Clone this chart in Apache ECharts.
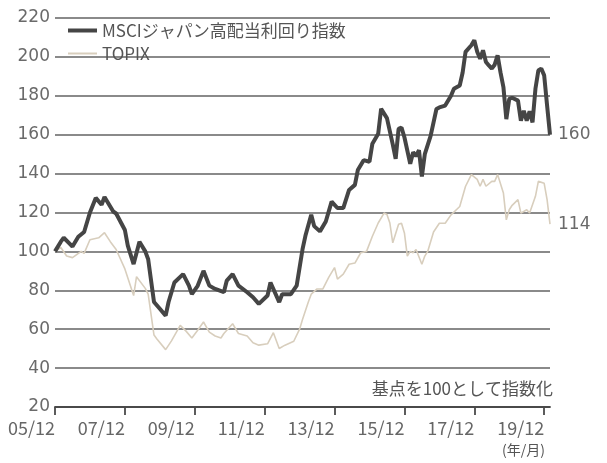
<!DOCTYPE html>
<html><head><meta charset="utf-8">
<script src="https://cdn.jsdelivr.net/npm/echarts@6/dist/echarts.min.js"></script>
<style>html,body{margin:0;padding:0;background:#fff}#c{width:607px;height:463px}</style>
</head><body><div id="c"></div>
<script>
const msciName = 'MSCIジャパン高配当利回り指数';
const topixName = 'TOPIX';
const msciDates = ['2005-12','2006-02','2006-03','2006-05','2006-06','2006-08','2006-10','2006-12','2007-02','2007-04','2007-05','2007-08','2007-09','2007-12','2008-01','2008-03','2008-05','2008-07','2008-08','2008-10','2008-12','2009-02','2009-03','2009-05','2009-08','2009-10','2009-11','2010-01','2010-03','2010-05','2010-07','2010-10','2010-11','2011-01','2011-03','2011-06','2011-08','2011-10','2012-01','2012-02','2012-05','2012-06','2012-09','2012-11','2013-01','2013-02','2013-04','2013-05','2013-07','2013-09','2013-11','2014-01','2014-03','2014-05','2014-07','2014-08','2014-10','2014-12','2015-01','2015-03','2015-04','2015-06','2015-08','2015-09','2015-10','2015-11','2015-12','2016-02','2016-03','2016-04','2016-05','2016-06','2016-07','2016-09','2016-11','2016-12','2017-02','2017-04','2017-05','2017-07','2017-08','2017-09','2017-11','2017-12','2018-01','2018-02','2018-03','2018-04','2018-05','2018-06','2018-07','2018-08','2018-09','2018-10','2018-11','2018-12','2019-01','2019-03','2019-04','2019-05','2019-06','2019-07','2019-08','2019-09','2019-10','2019-11','2019-12','2020-01','2020-02'];
const msciValues = [100,105,107,104,102.5,107.5,110,120,127.5,124,128,120.5,119.5,111,103,93.5,105,100,96,74,70.5,67,74,84,88.3,82.4,78,82.3,90,82.4,80.7,79,85,88.3,82.4,79,76.4,73,77.3,84,73.9,78,78,82.4,101,108,118.8,113,110.3,115.4,125.6,122.3,122.3,131.6,134.2,141.8,146.9,146.1,155.4,160.5,173.3,168.5,155,147.6,163,163.7,158.7,145,151,149,152,138.5,150,159.4,173.2,174,175,180,183.6,185.3,192,202.6,206,208.6,202.6,199,203.4,197.4,195.6,194,196,200.8,192,184.5,168,178.4,179,177.5,167.2,172.3,167.2,172,166.3,183.6,193,194,190.5,175,160];
const topixDates = ['2005-12','2006-02','2006-04','2006-06','2006-09','2006-10','2006-12','2007-03','2007-05','2007-07','2007-09','2007-12','2008-03','2008-04','2008-07','2008-08','2008-10','2008-11','2009-02','2009-04','2009-07','2009-09','2009-11','2010-01','2010-03','2010-05','2010-07','2010-09','2010-10','2011-01','2011-03','2011-06','2011-08','2011-10','2012-01','2012-03','2012-05','2012-07','2012-10','2012-12','2013-01','2013-03','2013-04','2013-06','2013-08','2013-10','2013-12','2014-01','2014-03','2014-05','2014-07','2014-09','2014-11','2015-01','2015-03','2015-05','2015-06','2015-07','2015-08','2015-10','2015-11','2015-12','2016-01','2016-02','2016-03','2016-04','2016-06','2016-07','2016-08','2016-10','2016-12','2017-02','2017-04','2017-07','2017-09','2017-11','2018-01','2018-02','2018-03','2018-04','2018-06','2018-07','2018-08','2018-10','2018-11','2018-12','2019-01','2019-03','2019-04','2019-06','2019-07','2019-09','2019-10','2019-12','2020-01','2020-02'];
const topixValues = [100,102,97.6,96.8,100,99,106,107,109.6,105,101,91,77.3,87,81,78,57,55,49.5,54,62,59,55.5,59.5,63.7,58.5,56.5,55.5,57.8,62.8,57.8,56.5,53,51.8,52.5,58.2,50.1,51.8,53.8,60,65,74,78,80.7,80.7,86.6,91.7,85.8,88.3,93.4,94,99.3,100,107.8,114.6,119.7,119,114.6,104.4,114,114.5,109.5,97.6,100,99.3,101,93.4,97.6,100,110,114.5,114.5,118.8,123.1,133.5,139.5,137,133.5,137,133.5,136,136,139.5,130,116.2,121.4,123.7,126.6,119.7,121.4,119.7,128.3,136,135,126.6,114];
const xTickLabels = ['05/12','07/12','09/12','11/12','13/12','15/12','17/12','19/12'];
const yMin = 20, yMax = 220, yStep = 20;
const note = '基点を100として指数化';
const unitLabel = '(年/月)';

function monthIndex(s){ const p = s.split('-').map(Number); return (p[0]-2005)*12 + p[1] - 12; }
const tickVals = xTickLabels.map(t => monthIndex('20' + t.slice(0,2) + '-' + t.slice(3)));
const font = '"Noto Sans CJK JP", "Noto Sans", sans-serif';
const numFont = '"DejaVu Sans", sans-serif';

const chart = echarts.init(document.getElementById('c'), null, {renderer:'canvas'});
chart.setOption({
  animation:false,
  backgroundColor:'#fff',
  textStyle:{fontFamily:font},
  grid:{left:55, right:57, top:18, bottom:56, containLabel:false},
  legend:[
    {orient:'vertical', left:63, top:17, itemWidth:29, itemHeight:4, icon:'rect',
     textStyle:{fontSize:17, color:'#555', fontFamily:font}, data:[msciName]},
    {orient:'vertical', left:63, top:40, itemWidth:29, itemHeight:2, icon:'rect',
     textStyle:{fontSize:17, color:'#555', fontFamily:font}, data:[topixName]}
  ],
  xAxis:{
    type:'value', min:0, max:monthIndex('2020-02'),
    axisLine:{show:true, lineStyle:{color:'#4a4a4a', width:1.8}},
    axisTick:{show:true, length:8, inside:false, customValues:tickVals, lineStyle:{color:'#4a4a4a', width:1.8}},
    axisLabel:{customValues:tickVals, formatter:v => xTickLabels[tickVals.indexOf(v)] || '', align:'right', margin:12, fontSize:18, color:'#666', fontFamily:font},
    splitLine:{show:false}
  },
  yAxis:{
    type:'value', min:yMin, max:yMax, interval:yStep,
    axisLine:{show:false}, axisTick:{show:false},
    axisLabel:{fontSize:17, color:'#6a6a6a', margin:5, fontFamily:numFont},
    splitLine:{show:true, lineStyle:{color:'#8a8a8a', width:2}}
  },
  graphic:[
    {type:'text', right:54, top:380, style:{text:note, fontSize:17, fill:'#555', fontFamily:font}},
    {type:'text', right:62, top:443, style:{text:unitLabel, fontSize:14, fill:'#555', fontFamily:font}}
  ],
  series:[
    {name:topixName, type:'line', symbol:'none', z:2,
     data:topixDates.map((d,i)=>[monthIndex(d), topixValues[i]]),
     lineStyle:{color:'#d8cebd', width:1.6}, itemStyle:{color:'#d8cebd'},
     endLabel:{show:true, formatter:p=>String(p.value[1]), distance:8, offset:[0,0], fontSize:17, color:'#6a6a6a', fontFamily:numFont}},
    {name:msciName, type:'line', symbol:'none', z:3,
     data:msciDates.map((d,i)=>[monthIndex(d), msciValues[i]]),
     lineStyle:{color:'#454545', width:4}, itemStyle:{color:'#454545'},
     endLabel:{show:true, formatter:p=>String(p.value[1]), distance:8, offset:[0,0], fontSize:17, color:'#6a6a6a', fontFamily:numFont}}
  ]
});
</script></body></html>
